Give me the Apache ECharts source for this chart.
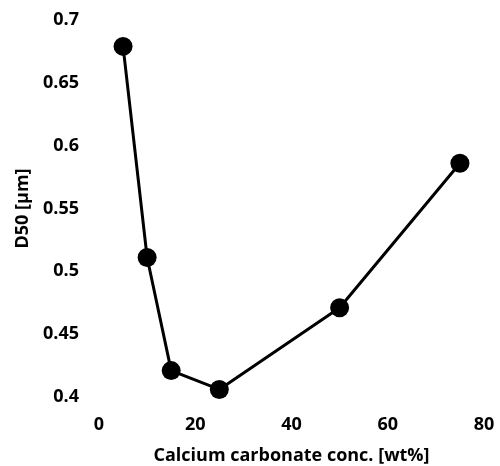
<!DOCTYPE html>
<html><head><meta charset="utf-8">
<script src="https://cdn.jsdelivr.net/npm/echarts@6/dist/echarts.min.js"></script>
<style>html,body{margin:0;padding:0;background:#fff}#c{width:500px;height:466px}</style>
</head><body><div id="c"></div>
<script>
const xValues = [5, 10, 15, 25, 50, 75];
const d50Values = [0.679, 0.511, 0.421, 0.406, 0.471, 0.586];
const xTitle = 'Calcium carbonate conc. [wt%]';
const yTitle = 'D50 [\u00b5m]';
const chart = echarts.init(document.getElementById('c'));
const font = '"Open Sans", "Liberation Sans", sans-serif';
chart.setOption({
  animation: false,
  grid: {left: 99, right: 16, top: 20, bottom: 69, containLabel: false, outerBoundsMode: 'none'},
  xAxis: {
    type: 'value', min: 0, max: 80, interval: 20,
    axisLine: {show: false}, axisTick: {show: false}, splitLine: {show: false},
    axisLabel: {color: '#000', fontWeight: 'bold', fontSize: 18, fontFamily: font, margin: 19},
    name: xTitle, nameLocation: 'middle', nameGap: 50,
    nameTextStyle: {color: '#000', fontWeight: 'bold', fontSize: 18, fontFamily: font}
  },
  yAxis: {
    type: 'value', min: 0.4, max: 0.7, interval: 0.05,
    axisLine: {show: false}, axisTick: {show: false}, splitLine: {show: false},
    axisLabel: {color: '#000', fontWeight: 'bold', fontSize: 18, fontFamily: font, margin: 20,
      formatter: v => String(+v.toFixed(2))},
    name: yTitle, nameLocation: 'middle', nameGap: 64, nameRotate: 90,
    nameTextStyle: {color: '#000', fontWeight: 'bold', fontSize: 18, fontFamily: font}
  },
  series: [{
    type: 'line',
    data: xValues.map((x, i) => [x, d50Values[i]]),
    symbol: 'circle', symbolSize: 19,
    lineStyle: {color: '#000', width: 3},
    itemStyle: {color: '#000'}
  }]
});
</script></body></html>
